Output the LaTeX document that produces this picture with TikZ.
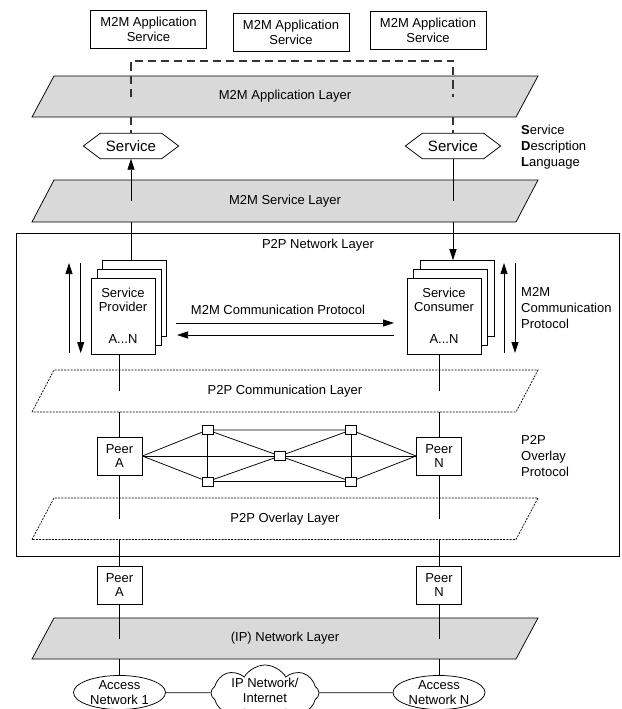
\documentclass[tikz,border=0pt]{standalone}
\usepackage{fontspec}
\setmainfont{Liberation Sans}
\usetikzlibrary{arrows.meta,shapes.symbols,shapes.geometric}
\definecolor{layergray}{HTML}{D9D9D9}

\tikzset{
  txt/.style={font=\fontsize{13}{15}\selectfont, align=center, inner sep=0pt},
  box/.style={txt, draw, fill=white, line width=0.75pt},
  appbox/.style={box, minimum width=116pt, minimum height=38pt},
  stackbox/.style={box, minimum height=76pt, font=\fontsize{13}{14}\selectfont},
  peerbox/.style={box, minimum width=45pt, minimum height=38pt, font=\fontsize{13}{14}\selectfont},
  meshnode/.style={draw, fill=white, line width=0.75pt, minimum width=11pt, minimum height=9pt, inner sep=0pt},
  solidlayer/.style={draw, fill=layergray, line width=0.75pt},
  openlayer/.style={draw, fill=white, line width=0.7pt, dash pattern=on 2pt off 1.2pt},
  wire/.style={line width=0.75pt},
  arr/.style={wire, -{Triangle[length=11pt,width=7pt]}},
  bracketline/.style={line width=1.1pt, dash pattern=on 8pt off 5pt, draw=black!80},
  sidetxt/.style={font=\fontsize{13}{16}\selectfont, align=left, anchor=west, inner sep=0pt},
  netell/.style={txt, draw, ellipse, fill=white, line width=0.75pt, minimum width=92pt, minimum height=34pt},
  hexlabel/.style={txt, font=\fontsize{15}{18}\selectfont, minimum width=95pt, minimum height=25pt},
  netcloud/.style={cloud, draw, fill=white, line width=0.75pt, cloud puffs=8, cloud puff arc=120, cloud ignores aspect, minimum width=108pt, minimum height=56pt, inner sep=0pt},
}

% slanted layer band between the heights #2 (top) and #3 (bottom)
\newcommand\layershape[3]{\path[#1] (32,#3) -- (54,#2) -- (538,#2) -- (516,#3) -- cycle;}
% hexagonal outline around a named label node
\newcommand\hexframe[1]{\draw[wire] (#1.west) -- ([xshift=17pt]#1.north west) -- ([xshift=-17pt]#1.north east) -- (#1.east) -- ([xshift=-17pt]#1.south east) -- ([xshift=17pt]#1.south west) -- cycle;}

\begin{document}
\begin{tikzpicture}[x=1pt,y=-1pt]
\useasboundingbox (0,0) rectangle (621,709);

% ---------- P2P network frame ----------
\draw[wire] (16,233) rectangle (619.5,556);
\node[txt] (p2pT) at (318,245) {P2P Network Layer};

% ---------- application services ----------
\node[appbox] (as1) at (148.5,29.5) {M2M Application\\Service};
\node[appbox] (as2) at (291,32.5) {M2M Application\\Service};
\node[appbox] (as3) at (428,30) {M2M Application\\Service};

% ---------- layers ----------
\layershape{solidlayer}{76}{117}
\node[txt] (appL) at (285,96.5) {M2M Application Layer};
\coordinate (appBot) at (0,117);

\layershape{solidlayer}{180}{222}
\node[txt] (srvL) at (285,201) {M2M Service Layer};
\coordinate (srvBot) at (0,222);

\layershape{openlayer}{370}{412}
\node[txt] (commL) at (285,391) {P2P Communication Layer};
\coordinate (commBot) at (0,412);

\layershape{openlayer}{498}{539.5}
\node[txt] (ovlL) at (285,519) {P2P Overlay Layer};
\coordinate (ovlBot) at (0,539.5);

\layershape{solidlayer}{618}{659}
\node[txt] (ipL) at (285,638.5) {(IP) Network Layer};
\coordinate (ipBot) at (0,659);

% ---------- service description ----------
\node[hexlabel] (hexL) at (131,146) {Service};
\node[hexlabel] (hexR) at (453,146) {Service};
\hexframe{hexL}
\hexframe{hexR}
\node[sidetxt] (sdl) at (521,147.5) {\textbf{S}ervice\\\textbf{D}escription\\\textbf{L}anguage};

% dashed bracket joining the two services through the application layer
\coordinate (brk) at (0,61);
\draw[bracketline] (hexL |- appL) -- (hexL |- brk) -- (hexR |- brk) -- (hexR |- appL);
\draw[bracketline] (hexL |- appBot) -- (hexL.north);
\draw[bracketline] (hexR |- appBot) -- (hexR.north);

\draw[arr] (hexL |- srvL) -- (hexL.south);
\draw[wire] (hexR.south) -- (hexR |- srvL);

% ---------- provider / consumer stacks ----------
\node[stackbox, minimum width=64pt] (sp3) at (134.7,298.4) {};
\node[stackbox, minimum width=64pt] (sp2) at (128.9,307.2) {};
\node[stackbox, minimum width=64pt] (sp) at (123,316) {Service\\Provider\\[18pt]A...N};

\node[stackbox, minimum width=74pt] (sc3) at (457,298.6) {};
\node[stackbox, minimum width=74pt] (sc2) at (450.5,307.3) {};
\node[stackbox, minimum width=74pt] (sc) at (444,316) {Service\\Consumer\\[18pt]A...N};

\draw[wire] (hexL |- srvBot) -- (hexL |- sp3.north);
\draw[arr] (hexR |- srvBot) -- (hexR |- sc3.north);

% vertical protocol arrows
\coordinate (lu1) at (69,353);   \coordinate (lu2) at (69,263);
\coordinate (ld1) at (80.7,263); \coordinate (ld2) at (80.7,353);
\coordinate (ru1) at (504,353);  \coordinate (ru2) at (504,263);
\coordinate (rd1) at (515,263);  \coordinate (rd2) at (515,353);
\draw[arr] (lu1) -- (lu2);
\draw[arr] (ld1) -- (ld2);
\draw[arr] (ru1) -- (ru2);
\draw[arr] (rd1) -- (rd2);

% horizontal protocol arrows
\coordinate (hr1) at (176,323); \coordinate (hr2) at (394,323);
\coordinate (hl1) at (394,335); \coordinate (hl2) at (177,335);
\draw[arr] (hr1) -- (hr2);
\draw[arr] (hl1) -- (hl2);
\node[txt] (m2mcp) at (278,310) {M2M Communication Protocol};
\node[sidetxt] (m2mR) at (521,308) {M2M\\Communication\\Protocol};

% ---------- overlay peers ----------
\node[peerbox] (pAi) at (119.5,456) {Peer\\A};
\node[peerbox] (pNi) at (439,456) {Peer\\N};

\draw[wire] (pAi |- sp.south) -- (pAi |- commL);
\draw[wire] (pNi |- sc.south) -- (pNi |- commL);
\draw[wire] (pAi |- commBot) -- (pAi.north);
\draw[wire] (pNi |- commBot) -- (pNi.north);

\node[meshnode] (tl) at (207.5,430) {};
\node[meshnode] (tr) at (351,430) {};
\node[meshnode] (mc) at (280,456) {};
\node[meshnode] (bl) at (207.5,481.5) {};
\node[meshnode] (br) at (351,481.5) {};

\draw[wire] (pAi.east) -- (tl) -- (tr) -- (pNi.west);
\draw[wire] (pAi.east) -- (bl) -- (br) -- (pNi.west);
\draw[wire] (pAi.east) -- (mc) -- (pNi.west);
\draw[wire] (tl) -- (bl);
\draw[wire] (tr) -- (br);
\draw[wire] (tl) -- (mc) -- (br);
\draw[wire] (tr) -- (mc) -- (bl);

\node[sidetxt] (ovlR) at (521,456) {P2P\\Overlay\\Protocol};

\draw[wire] (pAi.south) -- (pAi |- ovlL);
\draw[wire] (pNi.south) -- (pNi |- ovlL);

% ---------- network peers ----------
\node[peerbox] (pAo) at (119.5,585) {Peer\\A};
\node[peerbox] (pNo) at (439,585) {Peer\\N};
\draw[wire] (pAi |- ovlBot) -- (pAo.north);
\draw[wire] (pNi |- ovlBot) -- (pNo.north);
\draw[wire] (pAo.south) -- (pAo |- ipL);
\draw[wire] (pNo.south) -- (pNo |- ipL);

% ---------- access networks ----------
\node[netell] (an1) at (119.5,692.5) {Access\\Network 1};
\node[netell] (anN) at (439,692.5) {Access\\Network N};
\node[netcloud] (inet) at (265,693) {};
\node[txt] (inetT) at (265,690) {IP Network/\\Internet};

\draw[wire] (pAo |- ipBot) -- (an1.north);
\draw[wire] (pNo |- ipBot) -- (anN.north);
\draw[wire] (an1) -- (inet);
\draw[wire] (inet) -- (anN);
\end{tikzpicture}
\end{document}
